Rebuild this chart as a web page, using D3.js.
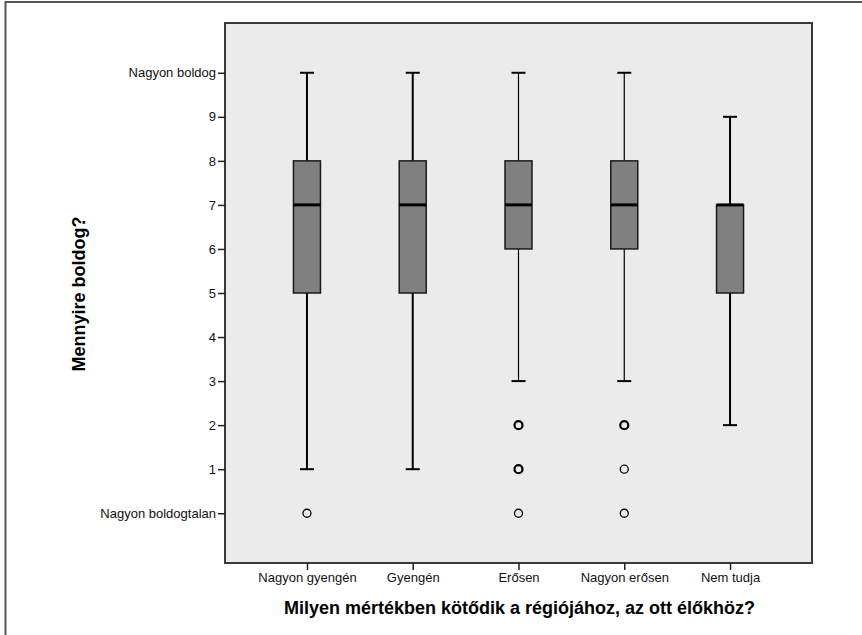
<!DOCTYPE html>
<html>
<head>
<meta charset="utf-8">
<script src="https://cdn.jsdelivr.net/npm/d3@7"></script>
<style>
  body { margin: 0; background: #fff; }
  svg { display: block; font-family: "Liberation Sans", Arial, sans-serif; }
</style>
</head>
<body>
<svg id="chart" width="862" height="635"></svg>
<script>
// ---- data ----
const categories = ["Nagyon gyengén", "Gyengén", "Erősen", "Nagyon erősen", "Nem tudja"];
const whiskerLow  = [1, 1, 3, 3, 2];
const q1          = [5, 5, 6, 6, 5];
const medians     = [7, 7, 7, 7, 7];
const q3          = [8, 8, 8, 8, 7];
const whiskerHigh = [10, 10, 10, 10, 9];
// outliers: [value, number of overlapping cases]
const outliers = [
  [[0, 1]],
  [],
  [[2, 2], [1, 2], [0, 1]],
  [[2, 2], [1, 1], [0, 1]],
  []
];
const yTickValues = [0, 1, 2, 3, 4, 5, 6, 7, 8, 9, 10];
const yTickLabels = ["Nagyon boldogtalan", "1", "2", "3", "4", "5", "6", "7", "8", "9", "Nagyon boldog"];
const xTitle = "Milyen mértékben kötődik a régiójához, az ott élőkhöz?";
const yTitle = "Mennyire boldog?";

// ---- layout ----
const svg = d3.select("#chart");
const plot = { left: 225, top: 23, right: 812, bottom: 563 };

const x = d3.scalePoint().domain(categories).range([plot.left, plot.right]).padding(0.775);
const y = d3.scaleLinear().domain([-1.13, 11.13]).range([plot.bottom, plot.top]);

// outer frame (top & left visible)
svg.append("path")
  .attr("d", `M5.5,635 L5.5,2 L862,2`)
  .attr("fill", "none").attr("stroke", "#555").attr("stroke-width", 2);

// plot background
svg.append("rect")
  .attr("x", plot.left).attr("y", plot.top)
  .attr("width", plot.right - plot.left).attr("height", plot.bottom - plot.top)
  .attr("fill", "#ebebeb").attr("stroke", "#3a3a3a").attr("stroke-width", 2);

// axes
const yAxis = d3.axisLeft(y).tickValues(yTickValues)
  .tickFormat((d, i) => yTickLabels[i]).tickSize(7).tickPadding(2);
const gy = svg.append("g").attr("transform", `translate(${plot.left},0)`).call(yAxis);
gy.select(".domain").remove();
gy.selectAll(".tick line").attr("stroke", "#222").attr("stroke-width", 1.5);
gy.selectAll(".tick text").attr("font-size", 13).attr("fill", "#111")
  .attr("font-family", "'Liberation Sans', Arial, sans-serif");

const xAxis = d3.axisBottom(x).tickSize(7).tickPadding(3);
const gx = svg.append("g").attr("transform", `translate(0,${plot.bottom})`).call(xAxis);
gx.select(".domain").remove();
gx.selectAll(".tick line").attr("stroke", "#222").attr("stroke-width", 1.5);
gx.selectAll(".tick text").attr("font-size", 13).attr("fill", "#111")
  .attr("font-family", "'Liberation Sans', Arial, sans-serif");

// titles
svg.append("text")
  .attr("x", (plot.left + plot.right) / 2 + 1).attr("y", 614)
  .attr("text-anchor", "middle").attr("font-size", 18).attr("font-weight", "bold")
  .attr("fill", "#000").text(xTitle);

svg.append("text")
  .attr("transform", "translate(85,294) rotate(-90)")
  .attr("text-anchor", "middle").attr("font-size", 18).attr("font-weight", "bold")
  .attr("fill", "#000").text(yTitle);

// boxes
const boxW = 27, capW = 14;
const whiskerWidths = [2, 2, 1.2, 1.2, 2];
categories.forEach((c, i) => {
  const cx = x(c);
  const g = svg.append("g");
  // whiskers
  g.append("line").attr("x1", cx).attr("x2", cx).attr("y1", y(q3[i])).attr("y2", y(whiskerHigh[i]))
    .attr("stroke", "#000").attr("stroke-width", whiskerWidths[i]);
  g.append("line").attr("x1", cx).attr("x2", cx).attr("y1", y(q1[i])).attr("y2", y(whiskerLow[i]))
    .attr("stroke", "#000").attr("stroke-width", whiskerWidths[i]);
  // caps
  [whiskerHigh[i], whiskerLow[i]].forEach(v => {
    g.append("line").attr("x1", cx - capW / 2).attr("x2", cx + capW / 2)
      .attr("y1", y(v)).attr("y2", y(v)).attr("stroke", "#000").attr("stroke-width", 2);
  });
  // box
  g.append("rect").attr("x", cx - boxW / 2).attr("y", y(q3[i]))
    .attr("width", boxW).attr("height", y(q1[i]) - y(q3[i]))
    .attr("fill", "#808080").attr("stroke", "#1a1a1a").attr("stroke-width", 1.5);
  // median
  g.append("line").attr("x1", cx - boxW / 2).attr("x2", cx + boxW / 2)
    .attr("y1", y(medians[i])).attr("y2", y(medians[i]))
    .attr("stroke", "#000").attr("stroke-width", 3);
  // outliers
  outliers[i].forEach(([v, n]) => {
    g.append("circle").attr("cx", cx).attr("cy", y(v)).attr("r", 4)
      .attr("fill", "none").attr("stroke", "#000").attr("stroke-width", n > 1 ? 2.2 : 1.3);
  });
});
</script>
</body>
</html>
